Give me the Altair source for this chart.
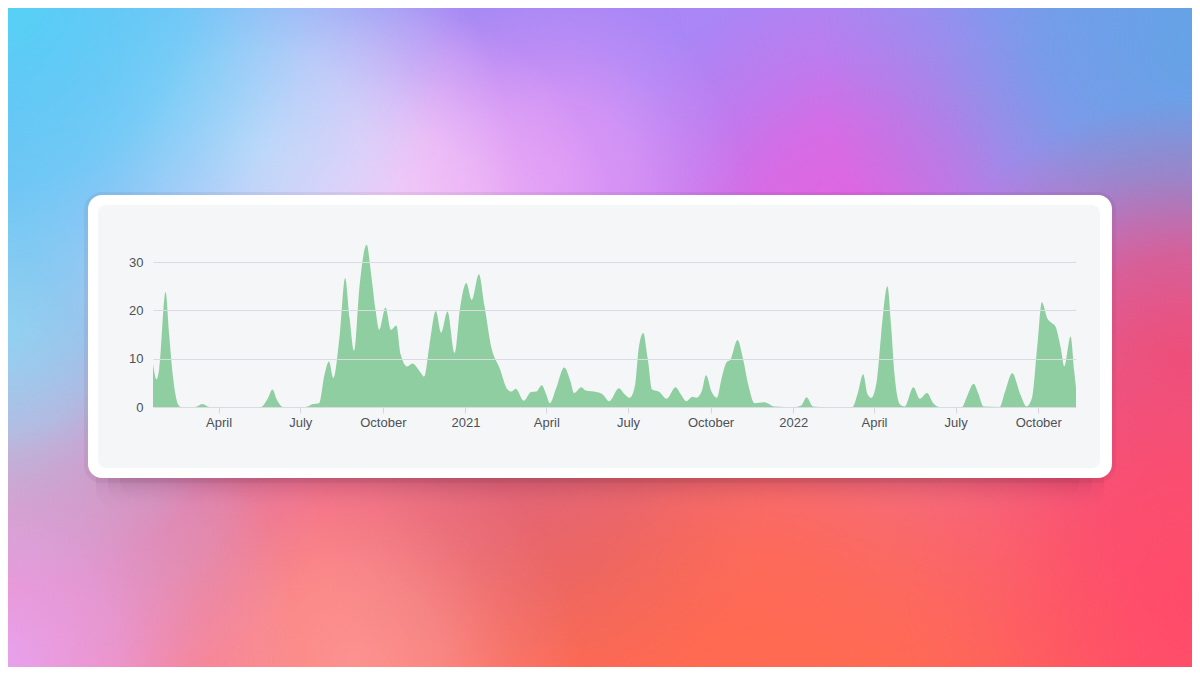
import altair as alt
import pandas as pd

# ---------------- data ----------------
DATES = [
    "2020-01-19", "2020-01-23", "2020-01-26", "2020-02-02", "2020-02-06", "2020-02-10",
    "2020-02-16", "2020-02-19", "2020-03-06", "2020-03-14", "2020-03-22", "2020-05-18",
    "2020-05-26", "2020-05-31", "2020-06-05", "2020-06-12", "2020-07-07", "2020-07-15",
    "2020-07-22", "2020-07-28", "2020-08-02", "2020-08-07", "2020-08-14", "2020-08-20",
    "2020-08-25", "2020-08-30", "2020-09-05", "2020-09-13", "2020-09-18", "2020-09-23",
    "2020-09-27", "2020-10-04", "2020-10-10", "2020-10-16", "2020-10-21", "2020-10-28",
    "2020-11-03", "2020-11-11", "2020-11-16", "2020-11-22", "2020-11-29", "2020-12-05",
    "2020-12-12", "2020-12-20", "2020-12-26", "2021-01-02", "2021-01-08", "2021-01-16",
    "2021-01-22", "2021-01-30", "2021-02-08", "2021-02-17", "2021-02-21", "2021-02-26",
    "2021-03-07", "2021-03-15", "2021-03-21", "2021-03-27", "2021-04-01", "2021-04-05",
    "2021-04-12", "2021-04-21", "2021-04-28", "2021-05-02", "2021-05-10", "2021-05-15",
    "2021-05-27", "2021-06-03", "2021-06-10", "2021-06-21", "2021-06-27", "2021-07-03",
    "2021-07-09", "2021-07-13", "2021-07-18", "2021-07-23", "2021-07-28", "2021-08-05",
    "2021-08-13", "2021-08-23", "2021-08-29", "2021-09-04", "2021-09-11", "2021-09-15",
    "2021-09-21", "2021-09-26", "2021-10-02", "2021-10-08", "2021-10-13", "2021-10-19",
    "2021-10-23", "2021-10-31", "2021-11-06", "2021-11-12", "2021-11-19", "2021-11-30",
    "2021-12-11", "2021-12-23", "2022-01-04", "2022-01-10", "2022-01-16", "2022-01-23",
    "2022-01-31", "2022-03-08", "2022-03-14", "2022-03-20", "2022-03-25", "2022-03-29",
    "2022-04-04", "2022-04-09", "2022-04-16", "2022-04-20", "2022-04-24", "2022-04-30",
    "2022-05-05", "2022-05-15", "2022-05-22", "2022-05-30", "2022-06-06", "2022-06-13",
    "2022-07-08", "2022-07-13", "2022-07-21", "2022-07-26", "2022-08-01", "2022-08-19",
    "2022-08-25", "2022-09-02", "2022-09-11", "2022-09-18", "2022-09-24", "2022-09-30",
    "2022-10-05", "2022-10-11", "2022-10-16", "2022-10-20", "2022-10-26", "2022-10-30",
    "2022-11-06", "2022-11-10", "2022-11-12",
]
VALUES = [
    8.9, 5.7, 8.0, 23.8, 15.0, 6.7,
    0.5, 0.0, 0.0, 0.6, 0.0, 0.0,
    1.8, 3.6, 1.5, 0.0, 0.0, 0.6,
    0.8, 6.7, 9.4, 6.0, 15.0, 26.7,
    18.4, 11.7, 25.0, 33.6, 27.4, 19.9,
    16.0, 20.6, 16.0, 16.9, 10.8, 8.4,
    9.0, 7.4, 6.3, 12.9, 19.9, 15.4,
    19.8, 11.2, 20.5, 25.7, 22.2, 27.5,
    21.2, 12.2, 8.1, 3.6, 3.2, 3.8,
    1.3, 3.1, 3.2, 4.5, 2.6, 0.8,
    3.9, 8.2, 5.3, 2.9, 4.1, 3.4,
    3.1, 2.6, 1.2, 3.9, 2.7, 1.9,
    4.6, 12.2, 15.3, 10.1, 3.6, 3.1,
    1.7, 4.1, 2.6, 1.2, 2.1, 1.9,
    3.2, 6.6, 3.2, 1.9, 5.7, 9.3,
    9.8, 13.9, 10.1, 4.6, 0.8, 1.0,
    0.1, 0.0, 0.0, 0.3, 2.0, 0.1,
    0.0, 0.0, 2.9, 6.8, 2.6, 1.9,
    5.3, 15.0, 25.0, 17.0, 6.5, 0.5,
    0.1, 4.1, 1.7, 2.9, 0.8, 0.0,
    0.0, 1.9, 4.8, 2.9, 0.1, 0.0,
    3.2, 7.0, 2.6, 0.1, 1.9, 12.9,
    21.7, 18.4, 17.4, 16.7, 12.2, 8.4,
    14.6, 7.4, 4.0,
]
Y_TICKS = [0, 10, 20, 30]
Y_DOMAIN = [0, 35]

df = pd.DataFrame({"date": pd.to_datetime(DATES), "value": VALUES})

# ---------------- layout / style (screen pixels) ----------------
PLOT_W, PLOT_H = 923, 169
OX, OY = 153, 238          # screen position of the plot's top-left
PAD = {"left": OX - 8, "top": OY - 8, "right": 1192 - (OX + PLOT_W), "bottom": 667 - (OY + PLOT_H)}

one = pd.DataFrame({"k": [0]})


def rect(x0, y0, x1, y1, **kw):
    return alt.Chart(one).mark_rect(**kw).encode(
        x=alt.value(x0 - OX), x2=alt.value(x1 - OX),
        y=alt.value(y0 - OY), y2=alt.value(y1 - OY),
    )


def rgba(hexc, a):
    h = hexc.lstrip("#")
    r, g, b = int(h[0:2], 16), int(h[2:4], 16), int(h[4:6], 16)
    return f"rgba({r},{g},{b},{a})"


def blob(cx, cy, r, color, a=1.0):
    grad = {
        "gradient": "radial", "x1": 0.5, "y1": 0.5, "r1": 0,
        "x2": 0.5, "y2": 0.5, "r2": 0.5,
        "stops": [
            {"offset": 0, "color": rgba(color, a)},
            {"offset": 0.4, "color": rgba(color, a * 0.75)},
            {"offset": 0.7, "color": rgba(color, a * 0.3)},
            {"offset": 1, "color": rgba(color, 0)},
        ],
    }
    return rect(cx - r, cy - r, cx + r, cy + r, fill=grad)


base = rect(0, 0, 1200, 675, fill={
    "gradient": "linear", "x1": 0, "y1": 0, "x2": 0, "y2": 1,
    "stops": [
        {"offset": 0, "color": "#a48cf3"},
        {"offset": 0.35, "color": "#d47cf0"},
        {"offset": 0.7, "color": "#f06a90"},
        {"offset": 1, "color": "#ff6a5a"},
    ],
})

BLOBS = [
    (700, 20, 300, "#aa86f6", 1.0),
    (860, 230, 260, "#e064e0", 1.0),
    (1200, 40, 380, "#63a3e6", 1.0),
    (1180, 360, 260, "#e8507e", 1.0),
    (1200, 600, 320, "#ff4a6a", 1.0),
    (700, 720, 450, "#ff6a50", 1.0),
    (350, 660, 230, "#fb9696", 0.9),
    (0, 660, 300, "#e6a2ee", 1.0),
    (0, 330, 260, "#a5d2f0", 1.0),
    (560, 170, 180, "#e49cf6", 0.8),
    (400, 220, 210, "#f3bdf6", 0.95),
    (260, 150, 250, "#f2dcfb", 1.0),
    (0, 0, 450, "#55d2f6", 1.0),
    (540, 490, 230, "#b85a7a", 0.3),
    (150, 500, 170, "#c4a6d8", 0.45),
]
blobs = [blob(*b) for b in BLOBS]


def shadow_band(inset, a):
    return rect(96 + inset, 440, 1104 - inset, 512 - inset * 0.4, cornerRadius=24, fill={
        "gradient": "linear", "x1": 0, "y1": 0, "x2": 0, "y2": 1,
        "stops": [
            {"offset": 0, "color": f"rgba(60,10,36,{a})"},
            {"offset": 0.53, "color": f"rgba(60,10,36,{a})"},
            {"offset": 0.7, "color": f"rgba(60,10,36,{a * 0.45})"},
            {"offset": 0.85, "color": f"rgba(60,10,36,{a * 0.15})"},
            {"offset": 1, "color": "rgba(60,10,36,0)"},
        ],
    })


shadow_soft = rect(84, 192, 1116, 483, fill="#3a0a24", opacity=0.06, cornerRadius=18)
shadows = [shadow_band(i, 0.08) for i in (0, 12, 24)]
card = rect(88, 195, 1112, 478, fill="white", cornerRadius=14)
panel = rect(98, 205, 1100, 468, fill="#f5f6f8", cornerRadius=8)

area = alt.Chart(df).mark_area(interpolate="monotone", color="#8fcea0").encode(
    x=alt.X(
        "date:T", title=None,
        axis=alt.Axis(
            tickCount={"interval": "month", "step": 3},
            labelExpr="month(datum.value) == 0 ? timeFormat(datum.value, '%Y') : timeFormat(datum.value, '%B')",
            grid=False, domain=False, tickSize=6, tickColor="#d3d7dd",
            labelColor="#4d5157", labelFontSize=13, labelFont="Liberation Sans",
            labelPadding=3, zindex=1,
        ),
    ),
    y=alt.Y(
        "value:Q", title=None,
        scale=alt.Scale(domain=Y_DOMAIN, nice=False),
        axis=alt.Axis(
            values=Y_TICKS, grid=True, gridColor="#d8dce2", domain=False, ticks=False,
            labelPadding=10, labelColor="#4d5157", labelFontSize=13,
            labelFont="Liberation Sans", zindex=1,
        ),
    ),
)

chart = alt.layer(base, *blobs, shadow_soft, *shadows, card, panel, area).properties(
    width=PLOT_W, height=PLOT_H, padding=PAD,
    autosize=alt.AutoSizeParams(type="none"), background="white",
).configure_view(stroke=None)

chart.save("out.html", embed_options={"renderer": "svg", "actions": False})
